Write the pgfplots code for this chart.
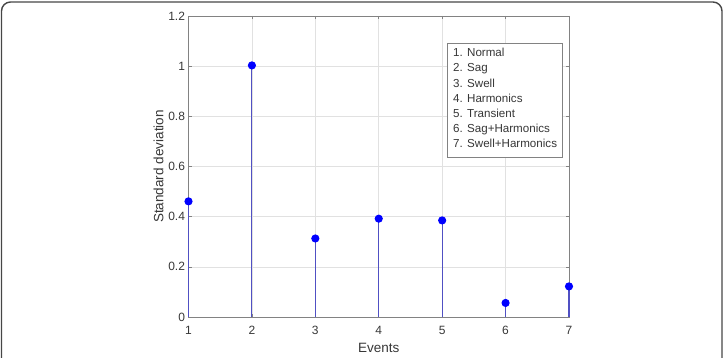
\documentclass[border=0pt]{standalone}
\usepackage{pgfplots}
\pgfplotsset{compat=1.18}
\usepackage{fontspec}
\setmainfont{Liberation Sans}
\definecolor{txt}{RGB}{55,55,55}
\definecolor{axg}{RGB}{130,130,130}
\definecolor{stem}{RGB}{80,80,195}
\begin{document}
\begin{tikzpicture}[x=1pt,y=1pt]
\useasboundingbox (0,0) rectangle (726,358);
\draw[line width=1.4pt, color={rgb,255:red,70;green,70;blue,70}, rounded corners=9pt] (1.5,-20) rectangle (722,356);
\begin{axis}[
  at={(188.5pt,41pt)}, anchor=south west,
  scale only axis, width=380.5pt, height=301pt,
  xmin=1, xmax=7, ymin=0, ymax=1.2,
  xtick={1,...,7}, ytick={0,0.2,...,1.2},
  yticklabels={0,0.2,0.4,0.6,0.8,1,1.2},
  xticklabels={1,2,3,4,5,6,7},
  grid=major,
  grid style={color={rgb,255:red,225;green,225;blue,225}, line width=0.6pt},
  axis line style={color=axg, line width=0.8pt},
  tick style={color=axg, line width=0.6pt},
  tick align=inside, major tick length=3pt,
  yticklabel style={font=\fontsize{12}{14}\selectfont, color=txt},
  xticklabel style={font=\fontsize{12}{14}\selectfont, color=txt, anchor=north, yshift=-6pt},
  /pgf/number format/assume math mode=true,
  xlabel={Events}, ylabel={Standard deviation},
  label style={font=\fontsize{13.5}{15}\selectfont, color=txt},
  xlabel style={yshift=-1pt},
  ylabel style={yshift=-2pt},
  clip=false,
]
\addplot[ycomb, color=stem, line width=1.1pt,
  mark=*, mark size=3.5pt, mark options={fill=blue, draw=blue}]
  coordinates {(1,0.461) (2,1.003) (3,0.313) (4,0.392) (5,0.385) (6,0.056) (7,0.122)};
\draw[color=axg, line width=0.9pt, fill=white] (rel axis cs:0.6793,0.9103) rectangle (rel axis cs:0.9829,0.5316);
\node[anchor=north west, align=left, inner sep=0pt, color=txt,
  font=\fontsize{11.6}{15.2}\selectfont]
  at ([xshift=6pt,yshift=-5pt]rel axis cs:0.6793,0.9103)
  {1. Normal\\2. Sag\\3. Swell\\4. Harmonics\\5. Transient\\6. Sag+Harmonics\\7. Swell+Harmonics};
\end{axis}
\end{tikzpicture}
\end{document}
